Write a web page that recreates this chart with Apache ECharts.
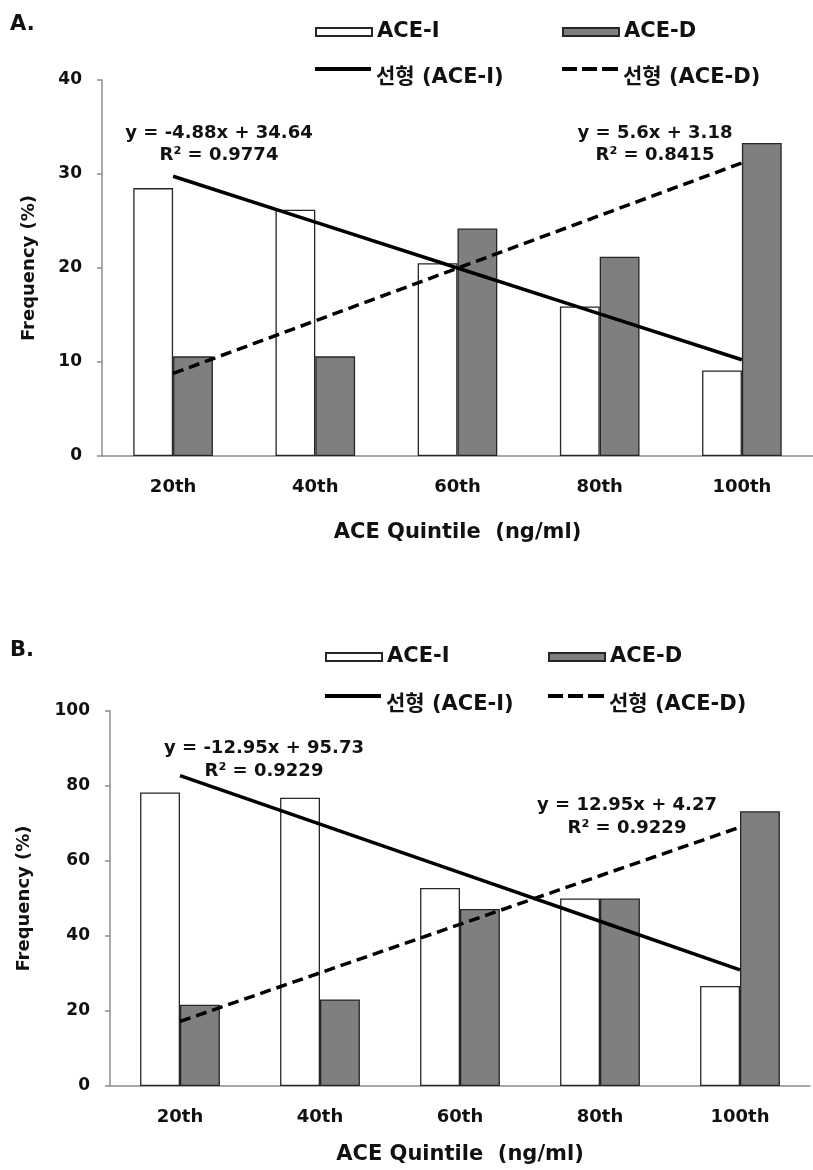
<!DOCTYPE html>
<html>
<head>
<meta charset="utf-8">
<script src="https://cdn.jsdelivr.net/npm/echarts@6/dist/echarts.min.js"></script>
<style>
  html, body { margin: 0; padding: 0; background: #ffffff; }
  #chartA { position: absolute; left: 0; top: 0; width: 813px; height: 590px; }
  #chartB { position: absolute; left: 0; top: 590px; width: 813px; height: 580px; }
</style>
</head>
<body>
<div id="chartA"></div>
<div id="chartB"></div>
<script>
// Categories shared by both panels
const quintiles = ['20th', '40th', '60th', '80th', '100th'];

// Panel A: frequency (%) of each allele group per ACE quintile
const aceI_A = [28.5, 26.2, 20.5, 15.9, 9.1];
const aceD_A = [10.6, 10.6, 24.2, 21.2, 33.3];
const fitSlopeA = [-4.88, 5.6];        // [ACE-I, ACE-D]
const fitInterceptA = [34.64, 3.18];
const fitR2A = ['0.9774', '0.8415'];

// Panel B
const aceI_B = [78.3, 76.9, 52.8, 50.0, 26.7];
const aceD_B = [21.7, 23.1, 47.2, 50.0, 73.3];
const fitSlopeB = [-12.95, 12.95];
const fitInterceptB = [95.73, 4.27];
const fitR2B = ['0.9229', '0.9229'];

// Axis ranges
const yMaxA = 40, yStepA = 10;
const yMaxB = 100, yStepB = 20;

const FONT = "'DejaVu Sans', 'Noto Sans CJK KR', sans-serif";
const AXIS_GREY = '#8c8c8c';
const BAR_EDGE = '#262626';
const DARK_FILL = '#7f7f7f';

// Legend glyphs for the trend lines: the stroke sits near the top of the
// icon box, so it rides a little above the middle of the label text.
const SOLID_ICON = 'path://M0,0H56V4H0Z M0,21.9H0.1V22H0Z';
const DASH_ICON = 'path://M0,0H15V4H0Z M20,0H35V4H20Z M40,0H56V4H40Z M0,21.9H0.1V22H0Z';

const NAME_I = 'ACE-I', NAME_D = 'ACE-D';
const NAME_FIT_I = '\uc120\ud615 (ACE-I)', NAME_FIT_D = '\uc120\ud615 (ACE-D)';

// Linear trend evaluated at category positions x = 1..n
function trend(slope, intercept) {
  return quintiles.map((_, i) => +(slope * (i + 1) + intercept).toFixed(3));
}

function legendItem(name, left, top, opts) {
  return Object.assign({
    data: [name],
    left: left,
    top: top,
    padding: 0,
    icon: 'rect',
    itemWidth: 56,
    itemHeight: 8,
    textStyle: { fontFamily: FONT, fontWeight: 'bold', fontSize: 21, color: '#111' },
    selectedMode: false
  }, opts || {});
}

function buildOption(cfg) {
  const textBase = { fontFamily: FONT, fontWeight: 'bold', color: '#111' };
  const lineIconStyle = { color: '#000', borderWidth: 0 };
  return {
    animation: false,
    backgroundColor: '#ffffff',
    legend: [
      legendItem(NAME_I, cfg.legX[0], cfg.legRow1Top),
      legendItem(NAME_D, cfg.legX[1], cfg.legRow1Top),
      legendItem(NAME_FIT_I, cfg.legX[0], cfg.legRow2Top, {
        icon: SOLID_ICON, itemHeight: 22, itemStyle: lineIconStyle, lineStyle: { width: 0 }
      }),
      legendItem(NAME_FIT_D, cfg.legX[1], cfg.legRow2Top, {
        icon: DASH_ICON, itemHeight: 22, itemStyle: lineIconStyle, lineStyle: { width: 0 }
      })
    ],
    grid: { left: cfg.grid.left, right: cfg.grid.right, top: cfg.grid.top, bottom: cfg.grid.bottom },
    xAxis: {
      type: 'category',
      data: quintiles,
      axisLine: { lineStyle: { color: AXIS_GREY, width: 1.5 } },
      axisTick: { show: false },
      axisLabel: Object.assign({}, textBase, { fontSize: 18, margin: 22 }),
      name: 'ACE Quintile  (ng/ml)',
      nameLocation: 'middle',
      nameGap: cfg.xNameGap,
      nameTextStyle: Object.assign({}, textBase, { fontSize: 21 })
    },
    yAxis: {
      type: 'value',
      min: 0,
      max: cfg.yMax,
      interval: cfg.yStep,
      axisLine: { show: true, lineStyle: { color: AXIS_GREY, width: 1.5 } },
      axisTick: { show: true, length: 5, lineStyle: { color: AXIS_GREY, width: 1.5 } },
      splitLine: { show: false },
      axisLabel: Object.assign({}, textBase, { fontSize: 17, margin: 20 }),
      name: 'Frequency (%)',
      nameLocation: 'middle',
      nameGap: cfg.yNameGap,
      nameRotate: 90,
      nameTextStyle: Object.assign({}, textBase, { fontSize: 18 })
    },
    series: [
      {
        name: NAME_I, type: 'bar', data: cfg.aceI,
        barWidth: cfg.barWidth, barGap: '0%',
        itemStyle: { color: '#ffffff', borderColor: BAR_EDGE, borderWidth: 1.3 }
      },
      {
        name: NAME_D, type: 'bar', data: cfg.aceD,
        barWidth: cfg.barWidth, barGap: '0%',
        itemStyle: { color: DARK_FILL, borderColor: BAR_EDGE, borderWidth: 1.3 }
      },
      {
        name: NAME_FIT_I, type: 'line', z: 5,
        data: trend(cfg.slope[0], cfg.intercept[0]),
        symbol: 'none', silent: true,
        lineStyle: { color: '#000', width: 3.5, type: 'solid' },
        itemStyle: { color: '#000' }
      },
      {
        name: NAME_FIT_D, type: 'line', z: 5,
        data: trend(cfg.slope[1], cfg.intercept[1]),
        symbol: 'none', silent: true,
        lineStyle: { color: '#000', width: 3.5, type: [11, 6] },
        itemStyle: { color: '#000' }
      }
    ],
    graphic: [
      {
        type: 'text', left: 10, top: cfg.panelLabelTop,
        style: { text: cfg.panelLabel, font: 'bold 21px ' + FONT, fill: '#111' }
      },
      {
        type: 'text', x: cfg.eqPos[0][0], y: cfg.eqPos[0][1],
        style: {
          text: 'y = ' + cfg.slope[0] + 'x + ' + cfg.intercept[0] + '\nR\u00b2 = ' + cfg.r2[0],
          font: 'bold 18px ' + FONT, fill: '#111', align: 'center', verticalAlign: 'top',
          lineHeight: cfg.eqLineHeight
        }
      },
      {
        type: 'text', x: cfg.eqPos[1][0], y: cfg.eqPos[1][1],
        style: {
          text: 'y = ' + cfg.slope[1] + 'x + ' + cfg.intercept[1] + '\nR\u00b2 = ' + cfg.r2[1],
          font: 'bold 18px ' + FONT, fill: '#111', align: 'center', verticalAlign: 'top',
          lineHeight: cfg.eqLineHeight
        }
      }
    ]
  };
}

const chartA = echarts.init(document.getElementById('chartA'), null, { renderer: 'canvas' });
chartA.setOption(buildOption({
  aceI: aceI_A, aceD: aceD_A,
  slope: fitSlopeA, intercept: fitInterceptA, r2: fitR2A,
  yMax: yMaxA, yStep: yStepA,
  grid: { left: 102, right: -9, top: 80, bottom: 134 },
  barWidth: '28%',
  xNameGap: 66, yNameGap: 64,
  legX: [315, 562], legRow1Top: 21.5, legRow2Top: 67,
  panelLabel: 'A.', panelLabelTop: 14,
  eqPos: [[219, 122], [655, 122]], eqLineHeight: 22
}));

const chartB = echarts.init(document.getElementById('chartB'), null, { renderer: 'canvas' });
chartB.setOption(buildOption({
  aceI: aceI_B, aceD: aceD_B,
  slope: fitSlopeB, intercept: fitInterceptB, r2: fitR2B,
  yMax: yMaxB, yStep: yStepB,
  grid: { left: 110, right: 3, top: 121, bottom: 84 },
  barWidth: '28.5%',
  xNameGap: 58, yNameGap: 77,
  legX: [325, 548], legRow1Top: 56.5, legRow2Top: 104,
  panelLabel: 'B.', panelLabelTop: 50,
  eqPos: [[264, 147], [627, 204]], eqLineHeight: 23
}));
</script>
</body>
</html>
